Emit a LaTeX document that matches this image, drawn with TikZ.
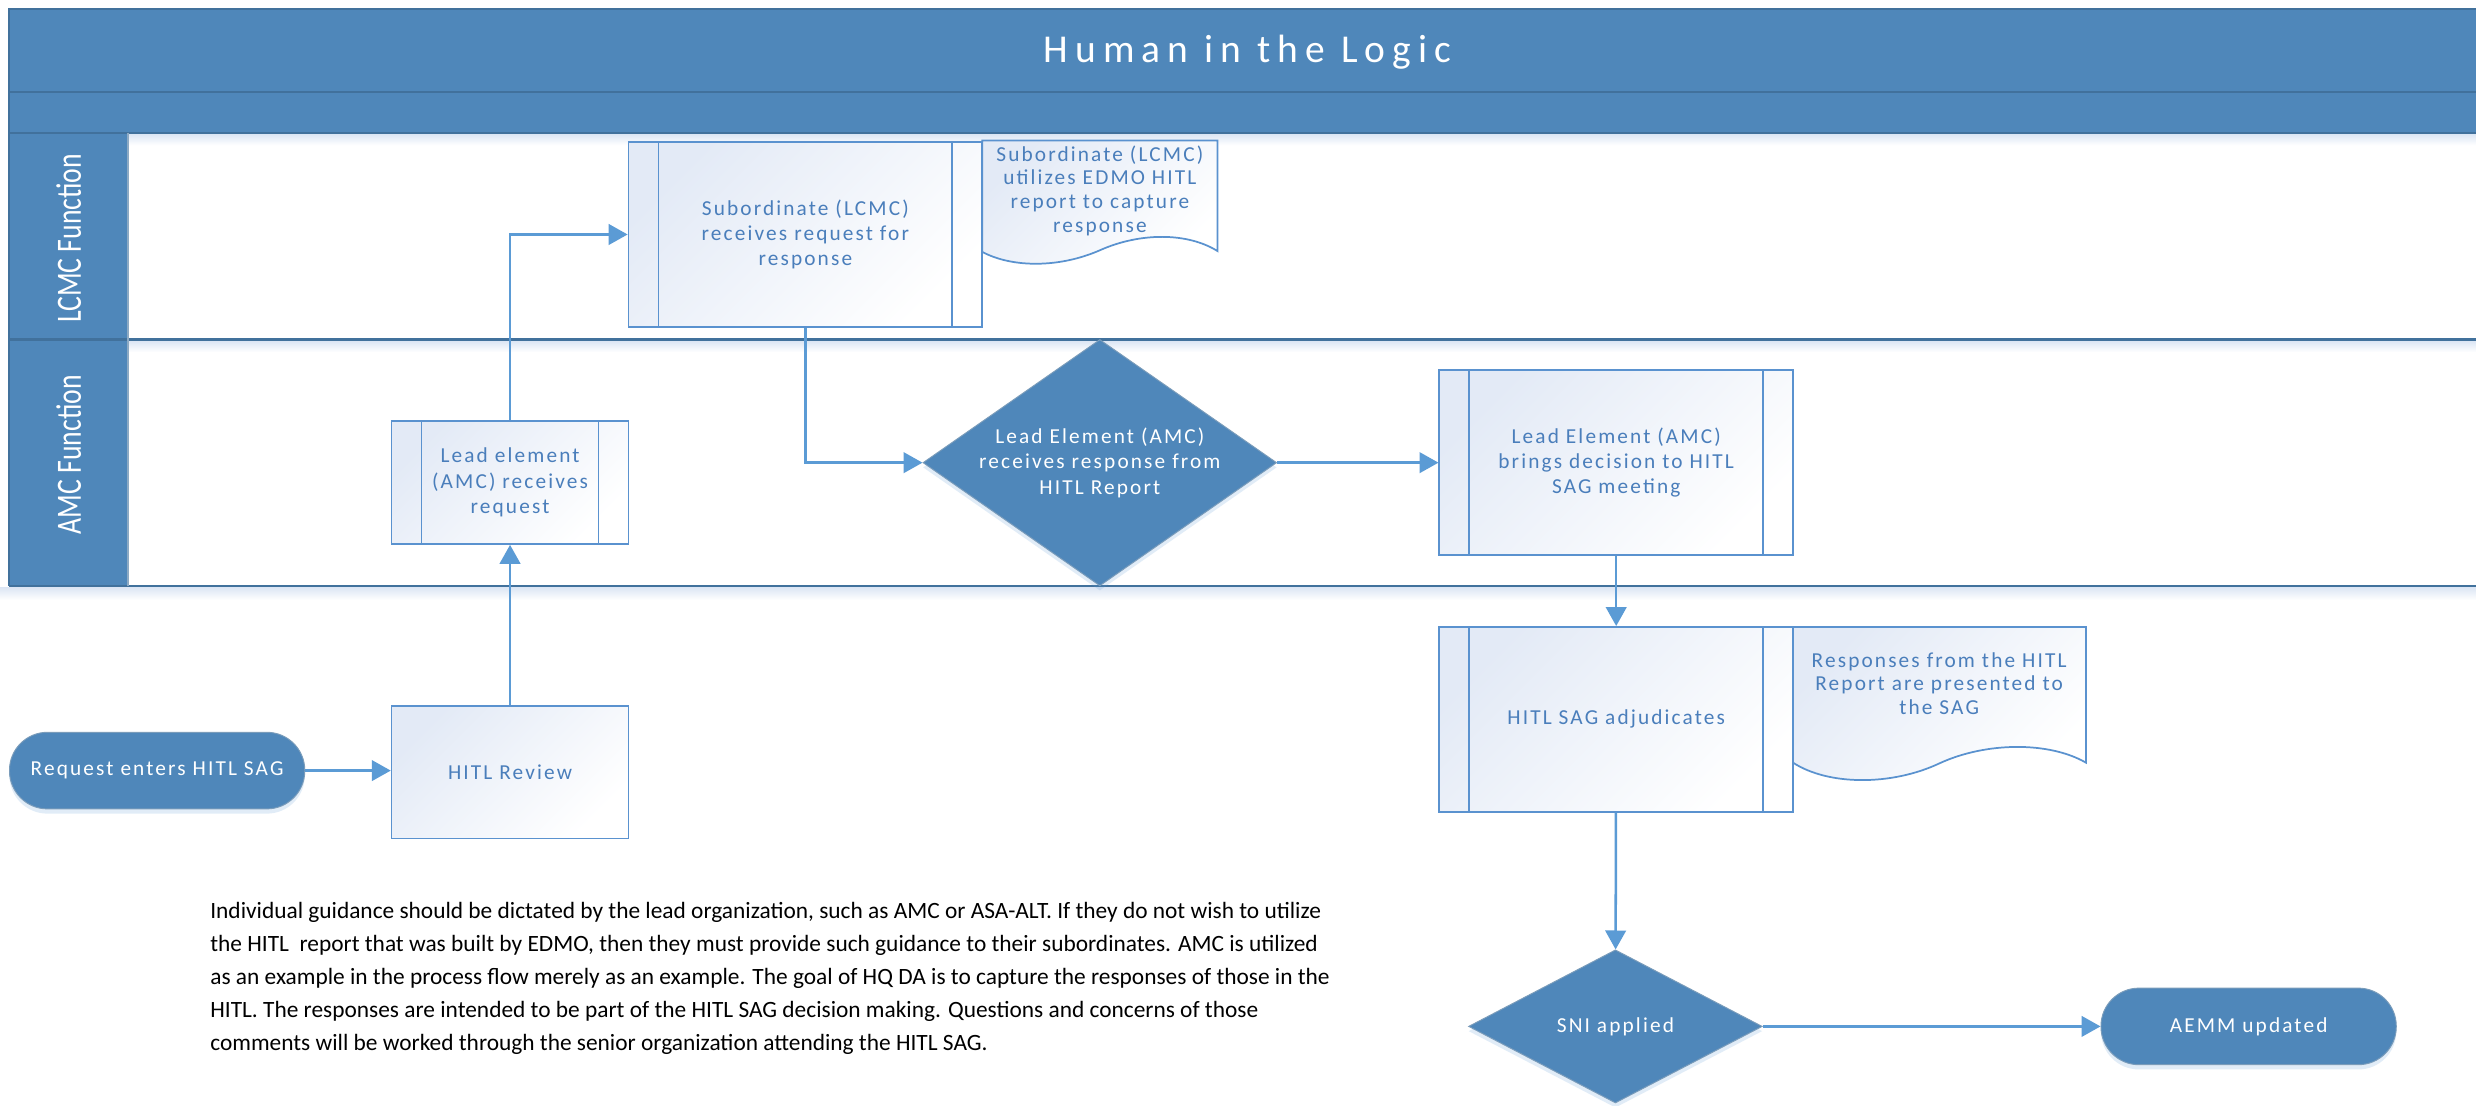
\documentclass[tikz,border=0pt]{standalone}
\usepackage{fontspec}
\usepackage{graphicx}
\setmainfont{Carlito}
\newfontfamily\boxfont[LetterSpace=10]{Carlito}
\newfontfamily\titlefont[LetterSpace=18]{Carlito}
\usetikzlibrary{shapes.geometric,arrows.meta,shadows}

\definecolor{poolblue}{HTML}{4F87BA}
\definecolor{pooldark}{HTML}{41719C}
\definecolor{flowblue}{HTML}{5B9BD5}
\definecolor{boxline}{HTML}{5A92CF}
\definecolor{boxtext}{HTML}{4A7EBB}
\definecolor{boxshade}{HTML}{E3EAF6}
\definecolor{shadowblue}{HTML}{DCE6F4}

\tikzset{
  boxtxt/.style={font=\boxfont\fontsize{13.5}{16}\selectfont, text=boxtext, align=center},
  procbox/.style={boxtxt, draw=boxline, line width=1.1pt, inner sep=0pt,
    top color=boxshade, bottom color=white, shading angle=45,
    minimum width=150pt, minimum height=78pt},
  subproc/.style={procbox, path picture={
    \draw[boxline, line width=1.1pt] ([xshift=19pt]path picture bounding box.north west) -- ([xshift=19pt]path picture bounding box.south west);
    \draw[boxline, line width=1.1pt] ([xshift=-19pt]path picture bounding box.north east) -- ([xshift=-19pt]path picture bounding box.south east);}},
  notebox/.style={draw=boxline, line width=1.1pt, top color=boxshade, bottom color=white, shading angle=45},
  notetxt/.style={boxtxt, font=\boxfont\fontsize{13.5}{15}\selectfont, inner sep=0pt},
  decision/.style={diamond, fill=poolblue, draw=pooldark!70, line width=0.6pt, inner sep=0pt,
    font=\boxfont\fontsize{13.5}{16}\selectfont, text=white, align=center,
    drop shadow={shadow xshift=0pt, shadow yshift=-3pt, fill=flowblue, opacity=0.18}},
  terminal/.style={rectangle, rounded corners=24pt, fill=poolblue, draw=pooldark!70, line width=0.6pt,
    minimum width=187pt, minimum height=48.5pt, inner sep=0pt,
    font=\boxfont\fontsize{13.5}{16}\selectfont, text=white,
    drop shadow={shadow xshift=0pt, shadow yshift=-3pt, fill=flowblue, opacity=0.18}},
  flow/.style={draw=flowblue, line width=1.6pt, -{Triangle[length=12pt,width=13pt]}},
  lanelabel/.style={rotate=90, text=white, inner sep=0pt, font=\fontsize{22.5}{24}\selectfont}
}

\begin{document}
\begin{tikzpicture}[x=1pt, y=-1pt]
  \useasboundingbox[fill=white] (0,0) rectangle (1568,700);
  % pool with title band, header band and lane column
  \fill[poolblue] (5.7,5.9) rectangle (1570,84);
  \fill[poolblue] (5.7,84) rectangle (81,371);
  \shade[top color=shadowblue, bottom color=white] (81,85) rectangle (1570,92);
  \shade[top color=shadowblue, bottom color=white] (81,216) rectangle (1570,223);
  \shade[top color=shadowblue, bottom color=white] (0,372) rectangle (1570,380);
  \draw[pooldark, line width=1.2pt] (5.7,371) -- (5.7,5.9) -- (1570,5.9);
  \draw[pooldark, line width=1.2pt] (5.7,58) -- (1570,58);
  \draw[pooldark, line width=1.4pt] (5.7,84) -- (1570,84);
  \draw[pooldark, line width=1.4pt] (5.7,215) -- (1570,215);
  \draw[pooldark, line width=1.4pt] (5.7,371) -- (1570,371);
  \draw[pooldark!60, line width=0.8pt] (81,84) -- (81,371);
  \node[text=white, font=\titlefont\fontsize{25}{27}\selectfont] (title) at (790,33) {Human in the Logic};
  \node[lanelabel] (lcmc) at (43.5,151) {\scalebox{0.78}[1]{LCMC Function}};
  \node[lanelabel] (amc) at (43.5,288) {\scalebox{0.78}[1]{AMC Function}};

  % LCMC lane
  \node[subproc, minimum width=224pt, minimum height=117pt] (sub) at (510,148.5)
    {Subordinate (LCMC)\\receives request for\\response};
  \path[notebox] (622,159.5) -- (622,89) -- (771,89) -- (771,159)
    .. controls (752,147.1) and (722,147.1) .. (696.5,158.5)
    .. controls (671,169.7) and (641,169.7) .. cycle;
  \node[notetxt, anchor=north] (note1) at (696.5,92) {Subordinate (LCMC)\\utilizes EDMO HITL\\report to capture\\response};

  % AMC lane
  \node[subproc] (lead) at (323,305.5) {Lead element\\(AMC) receives\\request};
  \node[decision, aspect=1.43, minimum width=224pt, minimum height=156pt] (dec1) at (696.5,293)
    {Lead Element (AMC)\\receives response from\\HITL Report};
  \node[subproc, minimum width=224pt, minimum height=117pt] (bring) at (1023.5,293)
    {Lead Element (AMC)\\brings decision to HITL\\SAG meeting};

  % below the pool
  \node[terminal] (start) at (99.5,488) {Request enters HITL SAG};
  \node[procbox, minimum height=84pt] (review) at (323,489) {HITL Review};
  \node[subproc, minimum width=224pt, minimum height=117pt] (adj) at (1023.5,455.5) {HITL SAG adjudicates};
  \path[notebox] (1135.5,483) -- (1135.5,397) -- (1321,397) -- (1321,483)
    .. controls (1298,469.6) and (1258,469.6) .. (1228,483.5)
    .. controls (1198,497.6) and (1158,497.6) .. cycle;
  \node[notetxt, anchor=north] (note2) at (1228,413) {Responses from the HITL\\Report are presented to\\the SAG};
  \node[decision, aspect=1.9, minimum width=186pt, minimum height=97pt] (sni) at (1023,650) {SNI applied};
  \node[terminal] (aemm) at (1424,650) {AEMM updated};

  % guidance text
  \node[anchor=north west, inner sep=0pt, align=left, font=\fontsize{14.8}{21}\selectfont] (guide) at (133,571)
    {Individual guidance should be dictated by the lead organization, such as AMC or ASA-ALT. If they do not wish to utilize\\
     the HITL~ report that was built by EDMO, then they must provide such guidance to their subordinates. AMC is utilized\\
     as an example in the process flow merely as an example. The goal of HQ DA is to capture the responses of those in the\\
     HITL. The responses are intended to be part of the HITL SAG decision making. Questions and concerns of those\\
     comments will be worked through the senior organization attending the HITL SAG.};

  % flow
  \draw[flow] (start) -- (start -| review.west);
  \draw[flow] (review) -- (lead);
  \draw[flow] (lead) |- (sub);
  \draw[flow] (sub) |- (dec1);
  \draw[flow] (dec1) -- (bring);
  \draw[flow] (bring) -- (adj);
  \draw[flow] (adj) -- (sni);
  \draw[flow] (sni) -- (aemm);
\end{tikzpicture}
\end{document}
